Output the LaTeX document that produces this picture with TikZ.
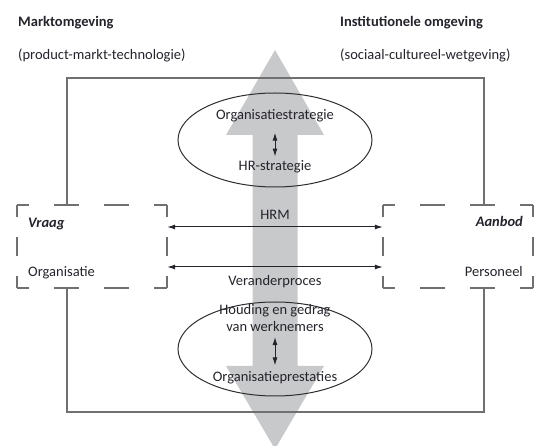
\documentclass[tikz,border=0pt]{standalone}
\usepackage{fontspec}
\setmainfont{Carlito}
\usetikzlibrary{arrows.meta,shapes.geometric}
\definecolor{ink}{HTML}{25232B}
\definecolor{framegray}{HTML}{707070}
\definecolor{flowgray}{HTML}{C8C9CB}
\definecolor{ovalline}{HTML}{2E2E2E}
\begin{document}
\begin{tikzpicture}[x=1pt,y=-1pt,
  txt/.style={text=ink, font=\fontsize{14.5}{16.7}\selectfont, inner sep=0pt},
  heading/.style={txt, font=\fontsize{14.5}{16.7}\selectfont\bfseries},
  keyword/.style={txt, font=\fontsize{14.5}{16.7}\selectfont\bfseries\itshape},
  frame/.style={draw=framegray, line width=1.5pt},
  dashbox/.style={minimum width=150pt, minimum height=83pt, inner sep=0pt},
  hdash/.style={draw=framegray, line width=1.5pt, dash pattern=on 25pt off 25pt, dash phase=12.5pt},
  vdash/.style={draw=framegray, line width=1.5pt, dash pattern=on 19.5pt off 20pt, dash phase=7.5pt},
  oval/.style={ellipse, draw=ovalline, line width=1pt, minimum width=194pt, minimum height=94pt, inner sep=0pt},
  link/.style={draw=ink, line width=1pt, {Latex[length=8pt,width=5pt]}-{Latex[length=8pt,width=5pt]}}
]
\path[use as bounding box, clip] (0,0) rectangle (544,446);

% broad vertical flow arrow in the background
\fill[flowgray] (275,50) -- (324,135) -- (297.5,135) -- (297.5,366) -- (324,366)
  -- (275,449) -- (226,366) -- (252.5,366) -- (252.5,135) -- (226,135) -- cycle;

% environment headings
\node[heading, anchor=base west] (markt) at (18,27) {Marktomgeving};
\node[txt, anchor=base west] (marktsub) at (18,60) {(product-markt-technologie)};
\node[heading, anchor=base west] (inst) at (340,27) {Institutionele omgeving};
\node[txt, anchor=base west] (instsub) at (340,60) {(sociaal-cultureel-wetgeving)};

% demand and supply boxes
\node[dashbox] (vraagbox) at (92,246.5) {};
\node[dashbox] (aanbodbox) at (458,246.5) {};
\foreach \b in {vraagbox,aanbodbox}{
  \draw[hdash] (\b.north west) -- (\b.north east);
  \draw[hdash] (\b.south west) -- (\b.south east);
  \draw[vdash] (\b.north west) -- (\b.south west);
  \draw[vdash] (\b.north east) -- (\b.south east);
}
\node[keyword, anchor=base west] (vraag) at (28,228) {Vraag};
\node[txt, anchor=base west] (organisatie) at (28,277) {Organisatie};
\node[keyword, anchor=base east] (aanbod) at (523,227) {Aanbod};
\node[txt, anchor=base east] (personeel) at (523,277) {Personeel};

% outer frame joining both boxes
\coordinate (tl) at (67,78);
\coordinate (tr) at (484,78);
\coordinate (bl) at (67,412);
\coordinate (br) at (484,412);
\draw[frame] (vraagbox.north -| tl) -- (tl) -- (tr) -- (aanbodbox.north -| tr);
\draw[frame] (vraagbox.south -| bl) -- (bl) -- (br) -- (aanbodbox.south -| br);

% strategy level
\node[oval] (strat) at (275,140) {};
\node[txt, anchor=base] (orgstrat) at (275,120) {Organisatiestrategie};
\node[txt, anchor=base] (hrstrat) at (275,170.7) {HR-strategie};
\draw[link, shorten <=10pt, shorten >=4pt] (orgstrat.south) -- (hrstrat.north);

% HRM and change process
\draw[link] ([yshift=19.5pt]vraagbox.east) -- ([yshift=19.5pt]aanbodbox.west);
\draw[link] ([yshift=-20.5pt]vraagbox.east) -- ([yshift=-20.5pt]aanbodbox.west);
\node[txt, anchor=base] (hrm) at (275,220) {HRM};
\node[txt, anchor=base] (verander) at (275,286) {Veranderproces};

% outcome level
\node[oval] (outcome) at (275,349) {};
\node[txt, anchor=base] (houding) at (275,315) {Houding en gedrag};
\node[txt, anchor=base] (werknemers) at (275,331.7) {van werknemers};
\node[txt, anchor=base] (prestaties) at (275,381.7) {Organisatieprestaties};
\draw[link, shorten <=5pt, shorten >=6pt] (werknemers.south) -- (prestaties.north);
\end{tikzpicture}
\end{document}
